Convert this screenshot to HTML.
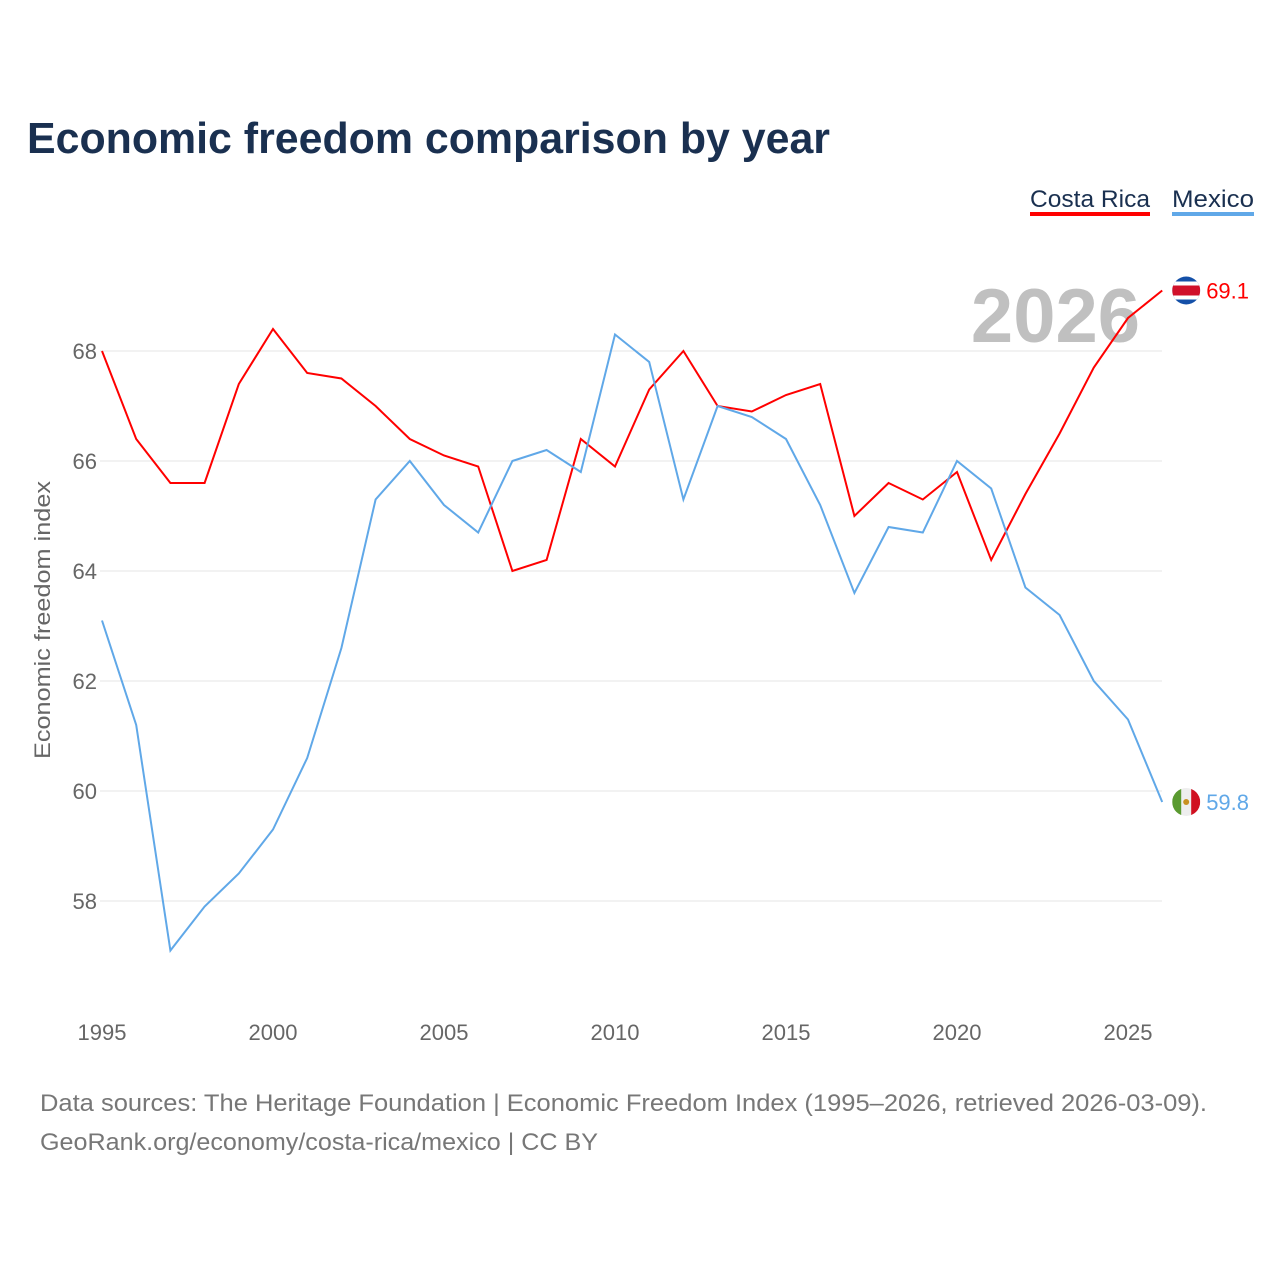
<!DOCTYPE html>
<html><head><meta charset="utf-8"><style>
html,body{margin:0;padding:0;background:#fff;width:1280px;height:1280px;overflow:hidden}
svg text{font-family:"Liberation Sans",sans-serif}
</style></head><body>
<svg id="chart" width="1280" height="1280" xmlns="http://www.w3.org/2000/svg">
<defs>
<clipPath id="crclip"><circle id="crc" cx="0" cy="0" r="14"/></clipPath>
<clipPath id="mxclip"><circle id="mxc" cx="0" cy="0" r="14"/></clipPath>
</defs>
<text x="27" y="153" font-size="44" font-weight="bold" fill="#1a3050" textLength="803" lengthAdjust="spacingAndGlyphs">Economic freedom comparison by year</text>
<g>
<text x="1030" y="207" font-size="24" fill="#1a3050" textLength="120" lengthAdjust="spacingAndGlyphs">Costa Rica</text>
<rect x="1030" y="212" width="120" height="4" fill="#ff0000"/>
<text x="1172" y="207" font-size="24" fill="#1a3050" textLength="82" lengthAdjust="spacingAndGlyphs">Mexico</text>
<rect x="1172" y="212" width="82" height="4" fill="#60a8e8"/>
</g>
<text x="1140" y="342" font-size="76" font-weight="bold" fill="#c0c0c0" text-anchor="end">2026</text>
<text transform="translate(50,620) rotate(-90)" font-size="22" fill="#666" text-anchor="middle" textLength="278" lengthAdjust="spacingAndGlyphs">Economic freedom index</text>
<g id="grid"></g><g id="xt"></g><g id="lines"></g>
<text x="40" y="1111" font-size="24" fill="#777" textLength="1167" lengthAdjust="spacingAndGlyphs">Data sources: The Heritage Foundation | Economic Freedom Index (1995–2026, retrieved 2026-03-09).</text>
<text x="40" y="1150" font-size="24" fill="#777" textLength="558" lengthAdjust="spacingAndGlyphs">GeoRank.org/economy/costa-rica/mexico | CC BY</text>
</svg>
<script>
const years=[1995,1996,1997,1998,1999,2000,2001,2002,2003,2004,2005,2006,2007,2008,2009,2010,2011,2012,2013,2014,2015,2016,2017,2018,2019,2020,2021,2022,2023,2024,2025,2026];
const costaRica=[68.0,66.4,65.6,65.6,67.4,68.4,67.6,67.5,67.0,66.4,66.1,65.9,64.0,64.2,66.4,65.9,67.3,68.0,67.0,66.9,67.2,67.4,65.0,65.6,65.3,65.8,64.2,65.4,66.5,67.7,68.6,69.1];
const mexico=[63.1,61.2,57.1,57.9,58.5,59.3,60.6,62.6,65.3,66.0,65.2,64.7,66.0,66.2,65.8,68.3,67.8,65.3,67.0,66.8,66.4,65.2,63.6,64.8,64.7,66.0,65.5,63.7,63.2,62.0,61.3,59.8];
const yTicks=[58,60,62,64,66,68];
const xTicks=[1995,2000,2005,2010,2015,2020,2025];
const NS="http://www.w3.org/2000/svg";
const x=v=>102+(v-1995)*(1128-102)/30;
const y=v=>351+(68-v)*55;
function mk(t,a,p){const e=document.createElementNS(NS,t);for(const k in a)e.setAttribute(k,a[k]);p.appendChild(e);return e;}
const grid=document.getElementById('grid');
yTicks.forEach(t=>{
 const l=mk('line',{x1:100,x2:1162,y1:y(t),y2:y(t),stroke:'#e6e6e6','stroke-width':1},grid);
 
 
 const tx=mk('text',{x:97,y:y(t)+8,'font-size':22,fill:'#666','text-anchor':'end'},grid);tx.textContent=t;
 
 
});
const xt=document.getElementById('xt');
xTicks.forEach(t=>{
 const tx=mk('text',{x:x(t),y:1040,'font-size':22,fill:'#666','text-anchor':'middle'},xt);tx.textContent=t;
 
 
});
const lines=document.getElementById('lines');
function series(vals,color,name){
 const p=mk('polyline',{points:vals.map((v,i)=>x(years[i])+','+y(v)).join(' '),fill:'none',stroke:color,'stroke-width':2},lines);
 
 
 const last=vals[vals.length-1],lx=x(years[years.length-1]),ly=y(last);
 const g=mk('g',{},lines);
 
 
 const t=mk('text',{x:lx+44,y:ly+8,'font-size':22,fill:color},lines);t.textContent=last.toFixed(1);
 
 
 return {g,cx:lx+24,cy:ly};
}
const cr=series(costaRica,'#ff0000','costa-rica');
document.getElementById('crc').setAttribute('cx',cr.cx);
document.getElementById('crc').setAttribute('cy',cr.cy);
cr.g.setAttribute('clip-path','url(#crclip)');
mk('rect',{x:cr.cx-14,y:cr.cy-14,width:28,height:28,fill:'#1450a8'},cr.g);
mk('rect',{x:cr.cx-14,y:cr.cy-9,width:28,height:18,fill:'#ffffff'},cr.g);
mk('rect',{x:cr.cx-14,y:cr.cy-5,width:28,height:10,fill:'#d0102a'},cr.g);
const mx=series(mexico,'#60a8e8','mexico');
document.getElementById('mxc').setAttribute('cx',mx.cx);
document.getElementById('mxc').setAttribute('cy',mx.cy);
mx.g.setAttribute('clip-path','url(#mxclip)');
mk('rect',{x:mx.cx-14,y:mx.cy-14,width:28,height:28,fill:'#eeeeee'},mx.g);
mk('rect',{x:mx.cx-14,y:mx.cy-14,width:9,height:28,fill:'#5a9a30'},mx.g);
mk('rect',{x:mx.cx+5,y:mx.cy-14,width:9,height:28,fill:'#d01020'},mx.g);
mk('circle',{cx:mx.cx,cy:mx.cy,r:3,fill:'#c89020'},mx.g);
</script>
</body></html>
